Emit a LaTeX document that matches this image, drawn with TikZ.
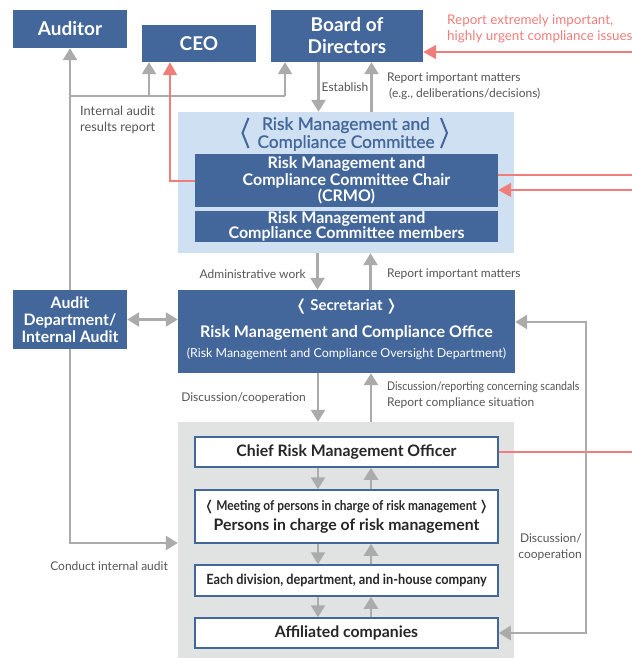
\documentclass[tikz,border=0pt]{standalone}
\usepackage{fontspec}
\setmainfont{Lato}
\newfontfamily\medfont{Lato}[FakeBold=0.8]
\newfontfamily\symfont{DejaVu Sans}
\usepackage{graphicx}
\usepackage{xcolor}
\usepackage{tikz}
\usetikzlibrary{arrows.meta,positioning,calc}

\definecolor{dkblue}{HTML}{43679A}
\definecolor{ltblue}{HTML}{CFE0F2}
\definecolor{grpgray}{HTML}{E1E2E2}
\definecolor{linegray}{HTML}{ABABAB}
\definecolor{txtgray}{HTML}{555555}
\definecolor{alertred}{HTML}{EF7E7A}

\begin{document}
\begin{tikzpicture}[x=1pt,y=-1pt,
  darkbox/.style={fill=dkblue, text=white, align=center, inner sep=0pt},
  whitebox/.style={fill=white, draw=dkblue, line width=1.5pt, text={black!85}, align=center, inner sep=0pt,
    minimum width=303, font=\fontsize{15.8}{20}\selectfont\bfseries},
  lbl/.style={text=txtgray, font=\fontsize{12}{16}\selectfont, inner sep=0pt},
  gline/.style={draw=linegray, line width=2.5pt},
  garrow/.style={gline, -{Triangle[width=14pt,length=12pt]}},
  garrows/.style={gline, {Triangle[width=14pt,length=12pt]}-{Triangle[width=14pt,length=12pt]}},
  rline/.style={draw=alertred, line width=2pt},
  rarrow/.style={rline, -{Triangle[width=14pt,length=13pt]}}]
\useasboundingbox (0,0) rectangle (632,659);
% top row
\node[darkbox, minimum width=114, minimum height=38, font=\fontsize{19}{20}\selectfont\bfseries] (auditor) at (70,29) {Auditor};
\node[darkbox, minimum width=114, minimum height=37, font=\fontsize{19}{20}\selectfont\bfseries] (ceo) at (199,43.5) {CEO};
\node[darkbox, minimum width=152, minimum height=52, font=\fontsize{19}{22}\selectfont\bfseries] (board) at (347,36) {Board of\\Directors};
\node[text=alertred, font=\fontsize{13.4}{16}\selectfont, align=left, anchor=north west, inner sep=0pt] (urgent) at (447,14) {Report extremely important,\\highly urgent compliance issues};
% committee
\node[fill=ltblue, minimum width=336, minimum height=141, inner sep=0pt] (comm) at (346,182.5) {};
\node[text=dkblue, font=\fontsize{17.3}{18}\medfont\selectfont, align=center, inner sep=0pt] (commtitle) at (346,134) {Risk Management and\\Compliance Committee};
\draw[dkblue, line width=2pt] (248.5,118) -- (242.5,133) -- (248.5,148);
\draw[dkblue, line width=2pt] (441,118) -- (447,133) -- (441,148);
\node[darkbox, minimum width=303, minimum height=53, font=\fontsize{16}{16.5}\selectfont\bfseries] (chair) at (346.5,180.5) {Risk Management and\\Compliance Committee Chair\\(CRMO)};
\node[darkbox, minimum width=303, minimum height=31, font=\fontsize{16}{15}\selectfont\bfseries] (members) at (346.5,226.5) {Risk Management and\\Compliance Committee members};
% audit department
\node[darkbox, minimum width=114, minimum height=59, font=\fontsize{15.8}{17}\selectfont\bfseries] (audit) at (70,319.5) {Audit\\Department/\\Internal Audit};
% secretariat
\node[darkbox, minimum width=337, minimum height=83] (secr) at (346.5,331.5) {};
\node[text=white, font=\fontsize{15}{16}\selectfont\bfseries, inner sep=0pt] (secrtop) at (346.5,307) {{\symfont\bfseries ❬}\,Secretariat\,{\symfont\bfseries ❭}};
\node[text=white, font=\fontsize{16}{18}\selectfont\bfseries, inner sep=0pt] (secrname) at (346.5,333) {Risk Management and Compliance Office};
\node[text=white, font=\fontsize{12.4}{14}\selectfont, inner sep=0pt] (secrsub) at (346.5,354) {(Risk Management and Compliance Oversight Department)};
% group
\node[fill=grpgray, minimum width=336, minimum height=236, inner sep=0pt] (group) at (346,540) {};
\node[whitebox, minimum height=30] (crmo) at (346.5,452) {Chief Risk Management Officer};
\node[whitebox, minimum height=53] (meeting) at (346.5,516.5) {\scalebox{0.88}[1]{\fontsize{13.5}{15}\selectfont{\symfont\bfseries ❬}\,Meeting of persons in charge of risk management\,{\symfont\bfseries ❭}}\\Persons in charge of risk management};
\node[whitebox, minimum height=31] (division) at (346.5,580.5) {\scalebox{0.91}[1]{\fontsize{14}{15}\selectfont Each division, department, and in-house company}};
\node[whitebox, minimum height=30] (affil) at (346.5,633) {Affiliated companies};
% audit reports
\coordinate (rjoin) at (70,96);
\draw[garrow] (audit.north) -- (auditor.south);
\draw[gline] (rjoin) -- ([xshift=-62pt]board.south |- rjoin);
\draw[garrow] ([xshift=-50pt]ceo.south |- rjoin) -- ([xshift=-50pt]ceo.south);
\draw[garrow] ([xshift=-62pt]board.south |- rjoin) -- ([xshift=-62pt]board.south);
\node[lbl, font=\fontsize{12.8}{16}\selectfont, align=left, anchor=north west] (auditlbl) at (80,106) {Internal audit\\results report};
% vertical flows
\foreach \a/\b in {board/comm, comm/secr, secr/group, crmo/meeting, meeting/division, division/affil} {
  \draw[garrow] ([xshift=-28.5pt]\a.south) -- ([xshift=-28.5pt]\a.south |- \b.north);
  \draw[garrow] ([xshift=24.5pt]\a.south |- \b.north) -- ([xshift=24.5pt]\a.south);
}
\node[lbl] (establish) at (345,87) {Establish};
\node[lbl, align=left, anchor=north west] (reportbd) at (387,73) {Report important matters\\\hspace{2pt}(e.g., deliberations/decisions)};
\node[lbl, anchor=east] (admin) at (306,274) {Administrative work};
\node[lbl, anchor=west] (reportcm) at (387,274) {Report important matters};
\node[lbl, anchor=east] (discoop) at (306,398) {Discussion/cooperation};
\node[lbl, align=left, anchor=north west] (scandal) at (387,381) {\scalebox{0.88}[1]{Discussion/reporting concerning scandals}\\Report compliance situation};
% red reporting lines
\coordinate (redbd) at (632,52);
\coordinate (redch) at (632,190);
\draw[rarrow] (redbd) -- (board.east |- redbd);
\draw[rarrow] (redch) -- (chair.east |- redch);
\draw[rline] ([yshift=5.5pt]chair.east) -- ([yshift=5.5pt]chair.east -| redch);
\draw[rline] (crmo.east) -- (crmo.east -| redch);
\draw[rarrow] (chair.west) -| ([xshift=-29pt]ceo.south);
% audit and discussion loops
\draw[garrows] (audit.east) -- (secr.west |- audit.east);
\coordinate (loop) at (586,322);
\draw[garrows] (secr.east |- loop) -- (loop) |- (affil.east);
\node[lbl, align=right, anchor=east] (loopinfo) at (582,547) {Discussion/\\cooperation};
\coordinate (auditturn) at (70,543);
\draw[garrow] (audit.south) -- (auditturn) -- (group.west |- auditturn);
\node[lbl, anchor=east] (conduct) at (168,566) {Conduct internal audit};
\end{tikzpicture}
\end{document}
